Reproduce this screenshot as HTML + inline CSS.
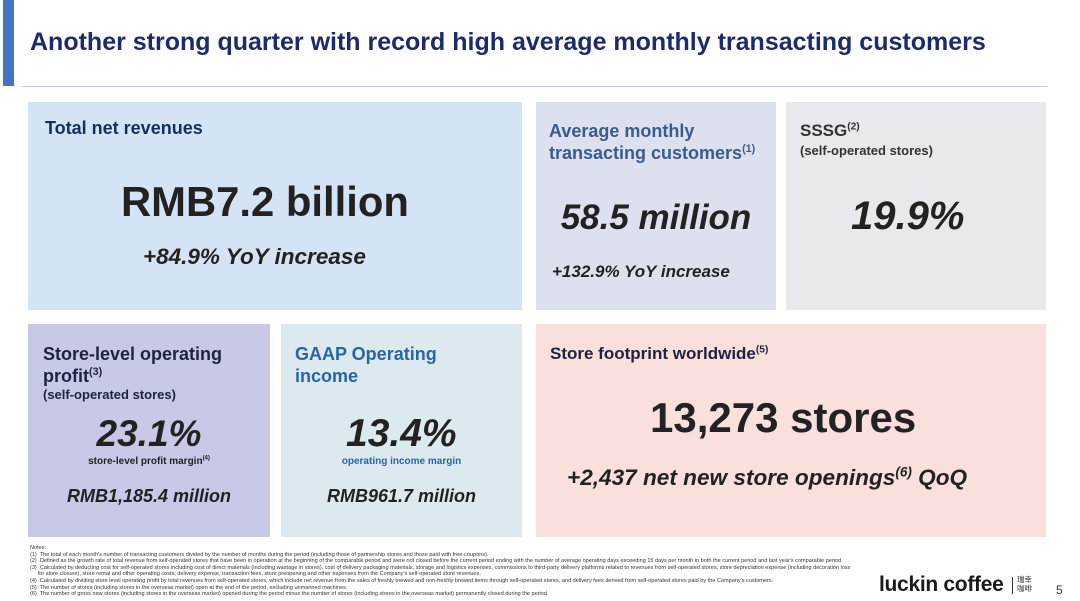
<!DOCTYPE html>
<html><head><meta charset="utf-8"><style>
*{margin:0;padding:0;box-sizing:border-box}
body{width:1080px;height:601px;background:#fff;position:relative;overflow:hidden;font-family:"Liberation Sans",Arial,sans-serif;color:#222}
.a{position:absolute;white-space:nowrap}
.b{position:absolute}
.h{font-weight:bold;font-size:18px;color:#1d2f5e;line-height:22px}
.big{font-weight:bold;font-style:italic;color:#222}
sup{font-size:60%;vertical-align:super;line-height:0}
.notes{font-size:5.55px;line-height:6.6px;color:#333}
</style></head><body>
<div class="b" style="left:3px;top:0;width:11px;height:86px;background:#4472c4"></div>
<div class="a" style="left:30px;top:28px;font-size:25px;font-weight:bold;color:#1f2a6e">Another strong quarter with record high average monthly transacting customers</div>
<div class="b" style="left:22px;top:86px;width:1026px;height:1px;background:#b8c7ea"></div>

<div class="b" style="left:28px;top:102px;width:494px;height:208px;background:#d4e4f4"></div>
<div class="a h" style="left:45px;top:117px;color:#13305e">Total net revenues</div>
<div class="a" style="left:121px;top:178px;font-size:41.8px;font-weight:bold;color:#222">RMB7.2 billion</div>
<div class="a big" style="left:143px;top:244px;font-size:22.5px">+84.9% YoY increase</div>

<div class="b" style="left:536px;top:102px;width:240px;height:208px;background:#dde1ef"></div>
<div class="a h" style="left:549px;top:120px;color:#3a5b8c">Average monthly<br>transacting customers<sup>(1)</sup></div>
<div class="a big" style="left:536px;width:240px;text-align:center;top:198px;font-size:35px;font-style:italic">58.5 million</div>
<div class="a big" style="left:552px;top:262px;font-size:17px">+132.9% YoY increase</div>

<div class="b" style="left:786px;top:102px;width:260px;height:208px;background:#e9e8ec"></div>
<div class="a h" style="left:800px;top:120px;font-size:17px;color:#333">SSSG<sup>(2)</sup></div>
<div class="a" style="left:800px;top:143px;font-size:13px;font-weight:bold;color:#333">(self-operated stores)</div>
<div class="a big" style="left:851px;top:194px;font-size:40px">19.9%</div>

<div class="b" style="left:28px;top:324px;width:242px;height:213px;background:#c7c9e7"></div>
<div class="a h" style="left:43px;top:343px;color:#1d2340">Store-level operating<br>profit<sup>(3)</sup></div>
<div class="a" style="left:43px;top:387px;font-size:13px;font-weight:bold;color:#1d2340">(self-operated stores)</div>
<div class="a big" style="left:28px;width:242px;text-align:center;top:413px;font-size:37px">23.1%</div>
<div class="a" style="left:28px;width:242px;text-align:center;top:456px;font-size:10px;font-weight:bold;color:#222">store-level profit margin<sup>(4)</sup></div>
<div class="a big" style="left:28px;width:242px;text-align:center;top:486px;font-size:18px">RMB1,185.4 million</div>

<div class="b" style="left:281px;top:324px;width:241px;height:213px;background:#dce9ee"></div>
<div class="a h" style="left:295px;top:343px;color:#2a64a8">GAAP Operating<br>income</div>
<div class="a big" style="left:346px;top:412px;font-size:39px">13.4%</div>
<div class="a" style="left:281px;width:241px;text-align:center;top:456px;font-size:10px;font-weight:bold;color:#2a64a8">operating income margin</div>
<div class="a big" style="left:281px;width:241px;text-align:center;top:486px;font-size:18px">RMB961.7 million</div>

<div class="b" style="left:536px;top:324px;width:510px;height:213px;background:#f9e0dd"></div>
<div class="a h" style="left:550px;top:343px;font-size:17px;color:#1d2340">Store footprint worldwide<sup>(5)</sup></div>
<div class="a" style="left:650px;top:394px;font-size:42px;font-weight:bold;color:#222">13,273 stores</div>
<div class="a big" style="left:567px;top:465px;font-size:22.6px">+2,437 net new store openings<sup>(6)</sup> QoQ</div>

<div class="a notes" style="left:30px;top:545px">Notes:<br>
(1)&nbsp; The total of each month's number of transacting customers divided by the number of months during the period (including those of partnership stores and those paid with free-coupons).<br>
(2)&nbsp; Defined as the growth rate of total revenue from self-operated stores that have been in operation at the beginning of the comparable period and were not closed before the current period ending with the number of average operating days exceeding 15 days per month in both the current period and last year's comparable period.<br>
(3)&nbsp; Calculated by deducting cost for self-operated stores including cost of direct materials (including wastage in stores), cost of delivery packaging materials, storage and logistics expenses, commissions to third-party delivery platforms related to revenues from self-operated stores, store depreciation expense (including decoration loss<br>
&nbsp;&nbsp;&nbsp;&nbsp;&nbsp;for store closure), store rental and other operating costs, delivery expense, transaction fees, store preopening and other expenses from the Company's self-operated store revenues.<br>
(4)&nbsp; Calculated by dividing store level operating profit by total revenues from self-operated stores, which include net revenue from the sales of freshly brewed and non-freshly brewed items through self-operated stores, and delivery fees derived from self-operated stores paid by the Company's customers.<br>
(5)&nbsp; The number of stores (including stores in the overseas market) open at the end of the period, excluding unmanned machines.<br>
(6)&nbsp; The number of gross new stores (including stores in the overseas market) opened during the period minus the number of stores (including stores in the overseas market) permanently closed during the period.</div>

<div class="a" style="left:879px;top:573px;font-size:21px;font-weight:bold;color:#1a1a1a;letter-spacing:-0.3px">luckin coffee</div>
<div class="b" style="left:1012px;top:577px;width:1px;height:17px;background:#333"></div>
<div class="a" style="left:1017px;top:575px;font-size:7.5px;line-height:9px;color:#333;font-family:'Liberation Sans','Noto Sans CJK SC',sans-serif">瑞幸<br>咖啡</div>
<div class="a" style="left:1056px;top:583px;font-size:12px;color:#333">5</div>
</body></html>
